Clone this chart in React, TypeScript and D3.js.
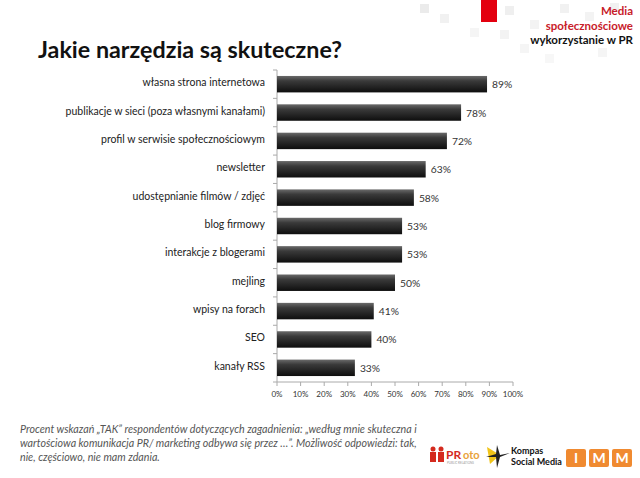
import React from "react";
import * as d3 from "d3";

const categories = [
  "własna strona internetowa",
  "publikacje w sieci (poza własnymi kanałami)",
  "profil w serwisie społecznościowym",
  "newsletter",
  "udostępnianie filmów / zdjęć",
  "blog firmowy",
  "interakcje z blogerami",
  "mejling",
  "wpisy na forach",
  "SEO",
  "kanały RSS",
];
const values = [89, 78, 72, 63, 58, 53, 53, 50, 41, 40, 33];
const ticks = [0, 10, 20, 30, 40, 50, 60, 70, 80, 90, 100];
const footerLines = [
  "Procent wskazań „TAK” respondentów dotyczących zagadnienia: „według mnie skuteczna i",
  "wartościowa komunikacja PR/ marketing odbywa się przez …”. Możliwość odpowiedzi: tak,",
  "nie, częściowo, nie mam zdania.",
];

const W = 640;
const H = 478;
const FONT = "Lato, 'Open Sans', sans-serif";

export default function App() {
  const x = d3.scaleLinear().domain([0, 100]).range([277, 513]);
  const y = d3.scaleBand().domain(categories).range([70, 382]).paddingInner(0.42).paddingOuter(0.21);
  const band = d3.scaleBand().domain(categories).range([70, 382]);

  const bgSquares: [number, number, number][] = [
    [420, 4, 0.5], [440, 14, 0.35], [505, 6, 0.4], [530, 20, 0.3], [560, 4, 0.35], [585, 12, 0.3],
    [610, 3, 0.35], [500, 30, 0.3], [520, 44, 0.25], [470, 28, 0.25], [598, 48, 0.25], [545, 54, 0.2],
  ];

  return (
    <svg width={W} height={H} style={{ position: "absolute", left: 0, top: 0, background: "#fff" }}>
      <defs>
        <linearGradient id="barGrad" x1="0" y1="0" x2="0" y2="1">
          <stop offset="0%" stopColor="#6a6a6a" />
          <stop offset="30%" stopColor="#3a3a3a" />
          <stop offset="100%" stopColor="#0e0e0e" />
        </linearGradient>
      </defs>
      <rect x={0} y={0} width={W} height={H} fill="#fff" />
      {bgSquares.map(([sx, sy, o], i) => (
        <rect key={i} x={sx} y={sy} width={9} height={9} fill="#d8d8d8" opacity={o} />
      ))}
      <rect x={481} y={0} width={16} height={22} fill="#e3000f" />

      <text x={633} y={15} textAnchor="end" fontFamily={FONT} fontWeight="bold" fontSize={11.5} fill="#c8202a">Media</text>
      <text x={633} y={30} textAnchor="end" fontFamily={FONT} fontWeight="bold" fontSize={11.5} fill="#c8202a">społecznościowe</text>
      <text x={633} y={44} textAnchor="end" fontFamily={FONT} fontWeight="bold" fontSize={11.5} fill="#111">wykorzystanie w PR</text>

      <text x={38} y={58} fontFamily={FONT} fontWeight="bold" fontSize={23.3} fill="#111">Jakie narzędzia są skuteczne?</text>

      {/* axes */}
      <line x1={x(0)} x2={x(0)} y1={70} y2={382} stroke="#aaa" />
      <line x1={x(0)} x2={x(100)} y1={382} y2={382} stroke="#aaa" />
      {categories.map((c, i) => (
        <line key={"yt" + i} x1={x(0) - 4} x2={x(0)} y1={band(c)!} y2={band(c)!} stroke="#aaa" />
      ))}
      <line x1={x(0) - 4} x2={x(0)} y1={382} y2={382} stroke="#aaa" />
      {ticks.map((t) => (
        <g key={"xt" + t}>
          <line x1={x(t)} x2={x(t)} y1={382} y2={386} stroke="#aaa" />
          <text x={x(t)} y={397} textAnchor="middle" fontFamily={FONT} fontSize={8} fill="#333">{t}%</text>
        </g>
      ))}

      {categories.map((c, i) => {
        const yc = band(c)! + band.bandwidth() / 2;
        return (
          <g key={c}>
            <rect x={x(0)} y={y(c)!} width={x(values[i]) - x(0)} height={y.bandwidth()} fill="url(#barGrad)" />
            <text x={x(values[i]) + 5} y={yc + 4} fontFamily={FONT} fontSize={10.3} fill="#333">{values[i]}%</text>
            <text x={265} y={yc + 2} textAnchor="end" fontFamily={FONT} fontSize={10.5} fill="#222">{c}</text>
          </g>
        );
      })}

      {footerLines.map((l, i) => (
        <text key={i} x={20} y={433 + i * 14} fontFamily={FONT} fontStyle="italic" fontSize={10.7} fill="#555">{l}</text>
      ))}

      {/* logos */}
      <g>
        <circle cx={433} cy={449} r={2.5} fill="#d42a1e" />
        <rect x={430} y={452} width={6} height={10} fill="#d42a1e" />
        <circle cx={441} cy={449} r={2.5} fill="#d42a1e" />
        <rect x={438} y={452} width={6} height={10} fill="#d42a1e" />
        <text x={446} y={459} fontFamily={FONT} fontWeight="bold" fontSize={12} fill="#d42a1e">PR</text>
        <text x={463} y={459} fontFamily={FONT} fontWeight="bold" fontSize={11} fill="#e9a23b">oto</text>
        <text x={447} y={464} fontFamily={FONT} fontSize={3} fill="#999">PUBLIC RELATIONS</text>
        <path d="M487,447 L500,455 L490,464 Z" fill="#f0c419" />
        <path d="M497,445 L500,455 L510,453 L500,457 L497,468 L496,457 L486,457 L496,454 Z" fill="#222" />
        <text x={511} y={454} fontFamily={FONT} fontWeight="bold" fontSize={9} fill="#111">Kompas</text>
        <text x={511} y={465} fontFamily={FONT} fontWeight="bold" fontSize={9} fill="#111">Social Media</text>
        {["I", "M", "M"].map((t, i) => (
          <g key={i}>
            <rect x={566 + i * 23} y={449} width={20} height={18} rx={2} fill="#f08a30" />
            <text x={576 + i * 23} y={463} textAnchor="middle" fontFamily={FONT} fontWeight="bold" fontSize={14} fill="#fff">{t}</text>
          </g>
        ))}
      </g>
    </svg>
  );
}
